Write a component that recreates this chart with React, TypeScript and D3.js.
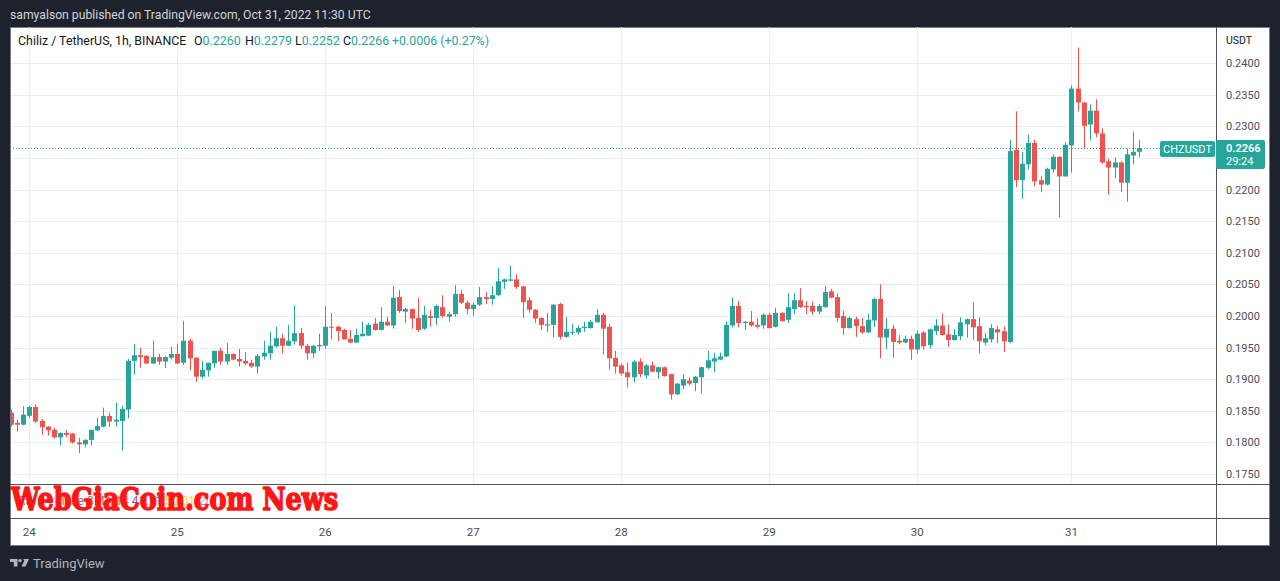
import React from 'react';
import * as d3 from 'd3';

// Hourly CHZ/USDT candles, Oct 23 evening -> Oct 31 11:00
const opens = [
  0.1847, 0.1831, 0.1828, 0.1842, 0.1856, 0.1834, 0.1825, 0.1820, 0.1808, 0.1815, 0.1814, 0.1800,
  0.1797, 0.1804, 0.1819, 0.1825, 0.1842, 0.1833, 0.1834, 0.1852, 0.1929, 0.1938, 0.1937, 0.1925,
  0.1935, 0.1928, 0.1934, 0.1940, 0.1926, 0.1961, 0.1934, 0.1904, 0.1914, 0.1925, 0.1945, 0.1928,
  0.1940, 0.1932, 0.1929, 0.1926, 0.1920, 0.1936, 0.1941, 0.1952, 0.1965, 0.1953, 0.1960, 0.1973,
  0.1953, 0.1941, 0.1952, 0.1953, 0.1983, 0.1983, 0.1978, 0.1964, 0.1958, 0.1968, 0.1969, 0.1988,
  0.1978, 0.1991, 0.1985, 0.2030, 0.2007, 0.2011, 0.1997, 0.1980, 0.2000, 0.1997, 0.2014, 0.1999,
  0.2003, 0.2035, 0.2021, 0.2011, 0.2018, 0.2030, 0.2027, 0.2033, 0.2054, 0.2056, 0.2058, 0.2047,
  0.2025, 0.2010, 0.1997, 0.1985, 0.1986, 0.2019, 0.1967, 0.1974, 0.1974, 0.1981, 0.1981, 0.1990,
  0.2002, 0.1983, 0.1934, 0.1922, 0.1911, 0.1903, 0.1928, 0.1906, 0.1922, 0.1911, 0.1919, 0.1908,
  0.1876, 0.1890, 0.1898, 0.1894, 0.1903, 0.1918, 0.1928, 0.1931, 0.1936, 0.1985, 0.2016, 0.1989,
  0.1991, 0.1986, 0.1985, 0.2002, 0.1983, 0.2005, 0.1994, 0.2011, 0.2025, 0.2016, 0.2016, 0.2007,
  0.2014, 0.2039, 0.2030, 0.2000, 0.1981, 0.1995, 0.1984, 0.1974, 0.1993, 0.2027, 0.1966, 0.1980,
  0.1961, 0.1958, 0.1964, 0.1947, 0.1974, 0.1954, 0.1976, 0.1985, 0.1971, 0.1962, 0.1968, 0.1987,
  0.1995, 0.1984, 0.1958, 0.1963, 0.1979, 0.1976, 0.1959, 0.2263, 0.2215, 0.2240, 0.2274, 0.2215,
  0.2208, 0.2232, 0.2252, 0.2221, 0.2270, 0.2360, 0.2338, 0.2303, 0.2325, 0.2289, 0.2245, 0.2235,
  0.2243, 0.2211, 0.2254, 0.2260,
];
const highs = [
  0.1852, 0.1836, 0.1857, 0.1858, 0.1860, 0.1837, 0.1826, 0.1823, 0.1816, 0.1820, 0.1815, 0.1807,
  0.1805, 0.1820, 0.1839, 0.1855, 0.1847, 0.1863, 0.1858, 0.1932, 0.1956, 0.1950, 0.1938, 0.1961,
  0.1940, 0.1937, 0.1951, 0.1956, 0.1992, 0.1964, 0.1935, 0.1929, 0.1926, 0.1945, 0.1950, 0.1957,
  0.1941, 0.1948, 0.1943, 0.1931, 0.1940, 0.1961, 0.1975, 0.1983, 0.1972, 0.1986, 0.2017, 0.1981,
  0.1956, 0.1954, 0.1972, 0.2016, 0.2005, 0.1985, 0.1980, 0.1978, 0.1980, 0.1991, 0.1989, 0.1997,
  0.2014, 0.1999, 0.2047, 0.2041, 0.2013, 0.2012, 0.2029, 0.2016, 0.2010, 0.2018, 0.2033, 0.2007,
  0.2049, 0.2041, 0.2024, 0.2021, 0.2046, 0.2038, 0.2047, 0.2076, 0.2059, 0.2080, 0.2066, 0.2048,
  0.2030, 0.2011, 0.1998, 0.2005, 0.2019, 0.2021, 0.1999, 0.1988, 0.1985, 0.1991, 0.1994, 0.2011,
  0.2005, 0.1988, 0.1945, 0.1925, 0.1926, 0.1930, 0.1933, 0.1924, 0.1928, 0.1920, 0.1920, 0.1909,
  0.1894, 0.1908, 0.1903, 0.1905, 0.1920, 0.1945, 0.1942, 0.1942, 0.1991, 0.2029, 0.2024, 0.1992,
  0.2008, 0.1997, 0.2004, 0.2005, 0.2013, 0.2006, 0.2036, 0.2036, 0.2044, 0.2024, 0.2023, 0.2019,
  0.2047, 0.2043, 0.2036, 0.2008, 0.1999, 0.1999, 0.1997, 0.2004, 0.2029, 0.2050, 0.1997, 0.1986,
  0.1970, 0.1969, 0.1969, 0.1977, 0.1976, 0.1980, 0.1995, 0.2004, 0.1987, 0.1979, 0.1998, 0.1996,
  0.2022, 0.1998, 0.1973, 0.1987, 0.1984, 0.1984, 0.2279, 0.2324, 0.2260, 0.2287, 0.2279, 0.2222,
  0.2235, 0.2256, 0.2253, 0.2275, 0.2365, 0.2425, 0.2339, 0.2335, 0.2343, 0.2297, 0.2249, 0.2251,
  0.2245, 0.2265, 0.2292, 0.2279,
];
const lows = [
  0.1825, 0.1817, 0.1827, 0.1839, 0.1831, 0.1812, 0.1811, 0.1806, 0.1795, 0.1808, 0.1798, 0.1783,
  0.1792, 0.1795, 0.1818, 0.1824, 0.1824, 0.1825, 0.1787, 0.1838, 0.1907, 0.1918, 0.1924, 0.1924,
  0.1923, 0.1918, 0.1931, 0.1924, 0.1923, 0.1914, 0.1896, 0.1901, 0.1904, 0.1918, 0.1923, 0.1923,
  0.1930, 0.1920, 0.1922, 0.1918, 0.1909, 0.1931, 0.1931, 0.1950, 0.1941, 0.1952, 0.1955, 0.1948,
  0.1931, 0.1934, 0.1945, 0.1948, 0.1963, 0.1960, 0.1963, 0.1957, 0.1958, 0.1968, 0.1969, 0.1977,
  0.1977, 0.1985, 0.1980, 0.2005, 0.1989, 0.1980, 0.1975, 0.1978, 0.1983, 0.1986, 0.1997, 0.1991,
  0.1999, 0.2019, 0.2003, 0.2000, 0.2016, 0.2019, 0.2018, 0.2032, 0.2043, 0.2055, 0.2043, 0.1997,
  0.2005, 0.1989, 0.1978, 0.1974, 0.1966, 0.1963, 0.1966, 0.1970, 0.1970, 0.1975, 0.1980, 0.1990,
  0.1939, 0.1915, 0.1909, 0.1906, 0.1887, 0.1895, 0.1903, 0.1901, 0.1911, 0.1901, 0.1904, 0.1868,
  0.1875, 0.1884, 0.1890, 0.1881, 0.1878, 0.1916, 0.1911, 0.1930, 0.1935, 0.1982, 0.1982, 0.1978,
  0.1983, 0.1980, 0.1980, 0.1980, 0.1982, 0.1991, 0.1989, 0.2003, 0.2013, 0.2003, 0.2002, 0.2003,
  0.2013, 0.2028, 0.1991, 0.1970, 0.1980, 0.1967, 0.1972, 0.1973, 0.1983, 0.1933, 0.1948, 0.1934,
  0.1955, 0.1957, 0.1931, 0.1941, 0.1947, 0.1949, 0.1970, 0.1969, 0.1951, 0.1961, 0.1962, 0.1966,
  0.1962, 0.1941, 0.1954, 0.1958, 0.1957, 0.1943, 0.1957, 0.2204, 0.2185, 0.2232, 0.2205, 0.2196,
  0.2207, 0.2227, 0.2156, 0.2220, 0.2227, 0.2324, 0.2264, 0.2278, 0.2283, 0.2241, 0.2192, 0.2218,
  0.2196, 0.2181, 0.2240, 0.2252,
];
const closes = [
  0.1828, 0.1828, 0.1844, 0.1856, 0.1833, 0.1824, 0.1819, 0.1808, 0.1815, 0.1812, 0.1800, 0.1797,
  0.1804, 0.1820, 0.1826, 0.1842, 0.1833, 0.1836, 0.1853, 0.1929, 0.1938, 0.1935, 0.1925, 0.1935,
  0.1928, 0.1935, 0.1940, 0.1925, 0.1961, 0.1933, 0.1904, 0.1915, 0.1926, 0.1945, 0.1928, 0.1940,
  0.1931, 0.1928, 0.1925, 0.1920, 0.1937, 0.1942, 0.1953, 0.1965, 0.1953, 0.1961, 0.1973, 0.1953,
  0.1941, 0.1953, 0.1954, 0.1983, 0.1982, 0.1976, 0.1963, 0.1958, 0.1970, 0.1972, 0.1986, 0.1978,
  0.1991, 0.1985, 0.2029, 0.2008, 0.2011, 0.1996, 0.1978, 0.2002, 0.1997, 0.2016, 0.2000, 0.2003,
  0.2035, 0.2021, 0.2011, 0.2018, 0.2030, 0.2027, 0.2033, 0.2055, 0.2058, 0.2058, 0.2046, 0.2022,
  0.2010, 0.1996, 0.1986, 0.1987, 0.2018, 0.1967, 0.1975, 0.1975, 0.1981, 0.1983, 0.1991, 0.2002,
  0.1980, 0.1933, 0.1920, 0.1909, 0.1903, 0.1928, 0.1908, 0.1922, 0.1912, 0.1919, 0.1905, 0.1876,
  0.1893, 0.1900, 0.1893, 0.1904, 0.1919, 0.1930, 0.1933, 0.1936, 0.1986, 0.2016, 0.1989, 0.1991,
  0.1985, 0.1983, 0.2002, 0.1981, 0.2005, 0.1992, 0.2014, 0.2025, 0.2014, 0.2014, 0.2007, 0.2016,
  0.2038, 0.2029, 0.1997, 0.1981, 0.1997, 0.1984, 0.1974, 0.1994, 0.2027, 0.1966, 0.1980, 0.1959,
  0.1958, 0.1964, 0.1947, 0.1972, 0.1952, 0.1979, 0.1985, 0.1970, 0.1962, 0.1970, 0.1990, 0.1995,
  0.1982, 0.1960, 0.1965, 0.1981, 0.1974, 0.1960, 0.2261, 0.2215, 0.2241, 0.2274, 0.2213, 0.2208,
  0.2233, 0.2252, 0.2221, 0.2271, 0.2360, 0.2338, 0.2301, 0.2325, 0.2289, 0.2243, 0.2235, 0.2243,
  0.2211, 0.2256, 0.2260, 0.2266,
];

// day labels on the time axis and the candle index where each day starts
// (Oct 30 has 25 hourly bars: DST change)
const dayLabels = ['24', '25', '26', '27', '28', '29', '30', '31'];
const dayStarts = [3, 27, 51, 75, 99, 123, 147, 172];

const priceTicks = [0.175, 0.18, 0.185, 0.19, 0.195, 0.2, 0.205, 0.21, 0.215, 0.22, 0.225, 0.23, 0.235, 0.24];

const lastPrice = 0.2266;

const UP = '#26a69a';
const DOWN = '#ef5350';
const GRID = '#e6edf3';
const FRAME = '#50535e';
const FONT = 'Roboto, "Liberation Sans", Arial, sans-serif';

export default function App() {
  const left = 10;
  const right = 1216.5;
  const top = 27;
  const paneBottom = 484.5;

  const x = d3.scaleLinear().domain([0, opens.length - 1]).range([10.8, 10.8 + (opens.length - 1) * 6.1667]);
  const y = d3.scaleLinear().domain([0.175, 0.24]).range([474, 63.3]);
  const fmt = d3.format('.4f');

  const candles = opens.map((o, i) => ({ o, h: highs[i], l: lows[i], c: closes[i], i }));

  return (
    <svg width={1280} height={581} style={{ position: 'absolute', left: 0, top: 0, display: 'block' }}
      fontFamily={FONT}>
      <defs>
        <clipPath id="plot">
          <rect x={left + 1} y={top} width={right - left - 1} height={paneBottom - top} />
        </clipPath>
      </defs>
      <rect x={0} y={0} width={1280} height={581} fill="#1e222d" />
      <text x={10} y={19} fontSize={12.2} fill="#d1d4dc">
        samyalson published on TradingView.com, Oct 31, 2022 11:30 UTC
      </text>

      {/* chart panel */}
      <rect x={10.5} y={27.5} width={1259} height={518} fill="#ffffff" stroke="#787b86" />

      {/* grid */}
      <g clipPath="url(#plot)">
        {priceTicks.map((p) => (
          <line key={p} x1={left} x2={right} y1={Math.round(y(p)) + 0.5} y2={Math.round(y(p)) + 0.5} stroke={GRID} />
        ))}
        {dayStarts.map((d) => (
          <line key={d} x1={Math.round(x(d)) + 0.5} x2={Math.round(x(d)) + 0.5} y1={top} y2={paneBottom} stroke={GRID} />
        ))}
      </g>

      {/* last price line */}
      <line x1={left} x2={1160} y1={Math.round(y(lastPrice)) + 0.5} y2={Math.round(y(lastPrice)) + 0.5}
        stroke={UP} strokeDasharray="1 2" />

      {/* candles */}
      <g clipPath="url(#plot)">
        {candles.map((d) => {
          const cx = Math.round(x(d.i));
          const col = d.c >= d.o ? UP : DOWN;
          const yt = y(Math.max(d.o, d.c));
          const yb = y(Math.min(d.o, d.c));
          return (
            <g key={d.i}>
              <line x1={cx + 0.5} x2={cx + 0.5} y1={y(d.h)} y2={y(d.l)} stroke={col} />
              <rect x={cx - 2} y={yt} width={5} height={Math.max(1, yb - yt)} fill={col} />
            </g>
          );
        })}
      </g>

      {/* legend */}
      <text y={45} fontSize={12.4} fill="#131722">
        <tspan x={18}>Chiliz / TetherUS, 1h, BINANCE</tspan>
        <tspan x={194}>O</tspan><tspan fill={UP}>{fmt(opens[opens.length - 1])}</tspan>
        <tspan x={245}>H</tspan><tspan fill={UP}>{fmt(highs[highs.length - 1])}</tspan>
        <tspan x={295}>L</tspan><tspan fill={UP}>{fmt(lows[lows.length - 1])}</tspan>
        <tspan x={343}>C</tspan><tspan fill={UP}>{fmt(closes[closes.length - 1])}</tspan>
        <tspan x={392} fill={UP}>+0.0006 (+0.27%)</tspan>
      </text>

      {/* pane separators */}
      <line x1={left} x2={1270} y1={paneBottom} y2={paneBottom} stroke={FRAME} />
      <line x1={left} x2={1270} y1={518.5} y2={518.5} stroke={FRAME} />
      <line x1={right} x2={right} y1={top} y2={546} stroke={FRAME} />

      {/* price axis */}
      <text x={1226} y={44} fontSize={10.5} fill="#131722">USDT</text>
      {priceTicks.map((p) => (
        <text key={p} x={1226} y={y(p)} dy="0.36em" fontSize={11} fill="#4a4e59">{fmt(p)}</text>
      ))}

      {/* last price tags */}
      <rect x={1160} y={141} width={55} height={16} rx={2} fill={UP} />
      <text x={1187.5} y={153} textAnchor="middle" fontSize={11} fill="#ffffff">CHZUSDT</text>
      <rect x={1216} y={140} width={49} height={29} rx={2} fill={UP} />
      <text x={1226} y={152} fontSize={11} fontWeight={600} fill="#ffffff">{fmt(lastPrice)}</text>
      <text x={1226} y={165} fontSize={11} fill="#ffffff">29:24</text>

      {/* indicator pane legend, partly covered by the watermark */}
      <text x={18} y={505} fontSize={12} fill="#787b86">
        RSI 14 close SMA 14 <tspan fill="#7e57c2">41.11</tspan> <tspan fill="#f5d02b">50.01</tspan> ∅
      </text>
      <text x={11} y={510} fontSize={31} fontWeight={900} fontFamily='"DejaVu Serif", serif' fill="#fe1616"
        stroke="#fe1616" strokeWidth={1.6} strokeLinejoin="round"
        textLength={327} lengthAdjust="spacingAndGlyphs">WebGiaCoin.com News</text>

      {/* time axis */}
      {dayLabels.map((lab, k) => (
        <text key={lab} x={x(dayStarts[k])} y={536} textAnchor="middle" fontSize={11.5} fill="#4a4e59">{lab}</text>
      ))}

      {/* footer logo */}
      <g fill="#b2b5be">
        <path d="M10,559 H17.5 V566.5 H13.8 V562 H10 Z" />
        <circle cx={20} cy={560.6} r={1.7} />
        <path d="M23,559 H29 L25.5,566.5 H21.5 L24.3,560.6 Z" />
      </g>
      <text x={33} y={568} fontSize={13} fill="#b2b5be">TradingView</text>
    </svg>
  );
}
